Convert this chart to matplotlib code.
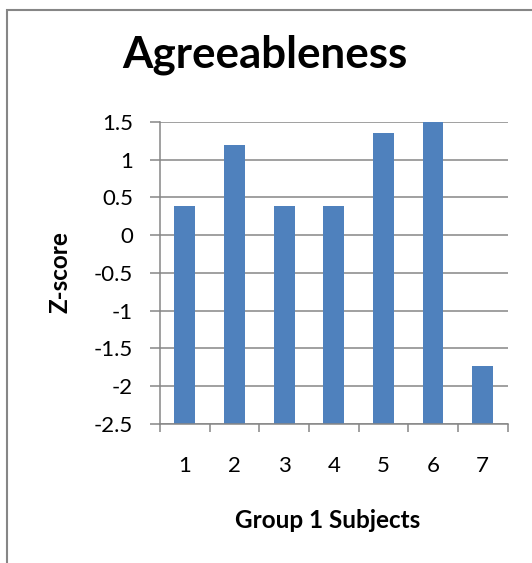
import matplotlib
matplotlib.use("Agg")
import matplotlib.pyplot as plt
from matplotlib.patches import Rectangle

plt.rcParams["font.family"] = ["Lato", "DejaVu Sans"]

subjects = ["1", "2", "3", "4", "5", "6", "7"]
z_scores = [0.38, 1.19, 0.38, 0.38, 1.35, 1.5, -1.73]
y_ticks = [-2.5, -2, -1.5, -1, -0.5, 0, 0.5, 1, 1.5]
y_labels = ["-2.5", "-2", "-1.5", "-1", "-0.5", "0", "0.5", "1", "1.5"]

W, H = 532, 563
fig = plt.figure(figsize=(W / 100, H / 100), dpi=100)
ax = fig.add_axes([160 / W, 1 - 423.7 / H, (507.5 - 160) / W, (423.7 - 122) / H])

grey = "#868686"
x = list(range(1, len(subjects) + 1))
base = y_ticks[0]
ax.bar(x, [v - base for v in z_scores], bottom=base, width=0.42,
       color="#4F81BD", zorder=3)

ax.set_xlim(0.5, len(subjects) + 0.5)
ax.set_ylim(y_ticks[0], y_ticks[-1])
ax.set_yticks(y_ticks)
ax.set_yticklabels(y_labels, fontsize=16)
ax.set_xticks(x)
ax.set_xticklabels(subjects, fontsize=16)
ax.set_xticks([i + 0.5 for i in range(len(subjects) + 1)], minor=True)
ax.tick_params(axis="x", which="major", length=0, pad=23)
ax.tick_params(axis="x", which="minor", length=6, width=1.1, color=grey, direction="out")
ax.tick_params(axis="y", length=7, width=1.1, color=grey, pad=12.5)

ax.grid(axis="y", color=grey, linewidth=1.1, zorder=1)
ax.set_axisbelow(True)
for s in ["top", "right"]:
    ax.spines[s].set_visible(False)
for s in ["left", "bottom"]:
    ax.spines[s].set_color(grey)
    ax.spines[s].set_linewidth(1.1)
    ax.spines[s].set_zorder(4)

fig.text(265 / W, 1 - 55 / H, "Agreeableness", fontsize=31.6, fontweight="bold",
         ha="center", va="center")
fig.text(327.5 / W, 1 - 520 / H, "Group 1 Subjects", fontsize=17.5, fontweight="bold",
         ha="center", va="center")
fig.text(60 / W, 1 - 272 / H, "Z-score", fontsize=17.5, fontweight="bold",
         ha="center", va="center", rotation=90)

fig.patches.append(Rectangle((7 / W, -0.1), 1.2, 1 - 10 / H + 0.1,
                             transform=fig.transFigure, fill=False,
                             edgecolor=grey, linewidth=1.5))

fig.savefig("out.png", dpi=100)
